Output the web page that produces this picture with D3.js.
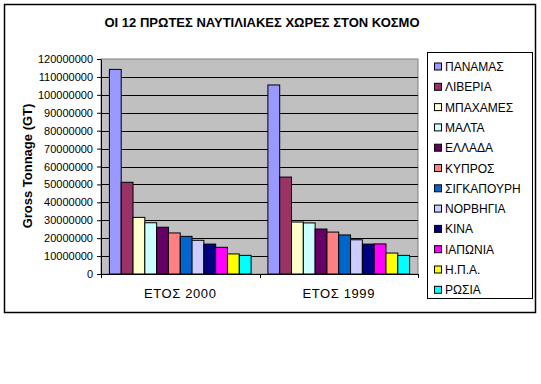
<!DOCTYPE html>
<html>
<head>
<meta charset="utf-8">
<script src="https://cdn.jsdelivr.net/npm/d3@7"></script>
<style>
  body { margin: 0; background: #fff; }
  svg { display: block; font-family: "Liberation Sans", Arial, sans-serif; }
</style>
</head>
<body>
<svg id="chart" width="541" height="384"></svg>
<script>
// data
const categories = ["ΕΤΟΣ 2000", "ΕΤΟΣ 1999"];
const countries = ["ΠΑΝΑΜΑΣ", "ΛΙΒΕΡΙΑ", "ΜΠΑΧΑΜΕΣ", "ΜΑΛΤΑ", "ΕΛΛΑΔΑ", "ΚΥΠΡΟΣ",
  "ΣΙΓΚΑΠΟΥΡΗ", "ΝΟΡΒΗΓΙΑ", "ΚΙΝΑ", "ΙΑΠΩΝΙΑ", "Η.Π.Α.", "ΡΩΣΙΑ"];
const values2000 = [114200000, 51200000, 31600000, 28600000, 26100000, 22900000,
  21000000, 18800000, 16700000, 14900000, 11200000, 10400000];
const values1999 = [105500000, 54100000, 29000000, 28500000, 25100000, 23400000,
  21800000, 19100000, 16700000, 16800000, 11700000, 10400000];
const colors = ["#9999FF", "#993366", "#FFFFCC", "#CCFFFF", "#660066", "#FF8080",
  "#0066CC", "#CCCCFF", "#000080", "#FF00FF", "#FFFF00", "#00FFFF"];
const yTickValues = [0, 10000000, 20000000, 30000000, 40000000, 50000000, 60000000,
  70000000, 80000000, 90000000, 100000000, 110000000, 120000000];

const seriesByCategory = { "ΕΤΟΣ 2000": values2000, "ΕΤΟΣ 1999": values1999 };

const svg = d3.select("#chart");

// outer frame
svg.append("rect")
  .attr("x", 4.5).attr("y", 4.5)
  .attr("width", 531).attr("height", 308)
  .attr("fill", "#fff")
  .attr("stroke", "#000")
  .attr("stroke-width", 1.5);

// plot area
const plotLeft = 101, plotRight = 418, plotTop = 59, plotBottom = 274;

const y = d3.scaleLinear().domain([0, 120000000]).range([plotBottom, plotTop]);
const x0 = d3.scaleBand().domain(categories).range([plotLeft, plotRight])
  .paddingInner(0.106).paddingOuter(0.053);
const x1 = d3.scaleBand().domain(countries).range([0, x0.bandwidth()]);
const color = d3.scaleOrdinal().domain(countries).range(colors);

svg.append("rect")
  .attr("x", plotLeft).attr("y", plotTop)
  .attr("width", plotRight - plotLeft).attr("height", plotBottom - plotTop)
  .attr("fill", "#C0C0C0")
  .attr("stroke", "#808080");

// gridlines
svg.append("g")
  .selectAll("line")
  .data(yTickValues.filter(v => v > 0 && v < 120000000))
  .enter()
  .append("line")
  .attr("x1", plotLeft).attr("x2", plotRight)
  .attr("y1", d => Math.round(y(d)) + 0.5)
  .attr("y2", d => Math.round(y(d)) + 0.5)
  .attr("stroke", "#000");

// bars
const groups = svg.append("g")
  .selectAll("g")
  .data(categories)
  .enter()
  .append("g")
  .attr("transform", d => "translate(" + x0(d) + ",0)");

groups.selectAll("rect")
  .data(cat => seriesByCategory[cat].map((v, i) => ({ country: countries[i], value: v })))
  .enter()
  .append("rect")
  .attr("x", d => x1(d.country))
  .attr("y", d => y(d.value))
  .attr("width", x1.bandwidth())
  .attr("height", d => plotBottom - y(d.value))
  .attr("fill", d => color(d.country))
  .attr("stroke", "#000")
  .attr("stroke-width", 1);

// y axis
const yAxis = svg.append("g")
  .attr("transform", "translate(" + plotLeft + ",0)")
  .call(d3.axisLeft(y).tickValues(yTickValues).tickSize(4).tickSizeOuter(0)
    .tickPadding(4).tickFormat(d3.format("d")));
yAxis.select(".domain").attr("stroke", "#000");
yAxis.selectAll("text")
  .attr("font-size", 11)
  .attr("font-family", "Liberation Sans, Arial, sans-serif")
  .attr("fill", "#000");

// x axis
svg.append("line")
  .attr("x1", plotLeft).attr("x2", plotRight)
  .attr("y1", plotBottom + 0.5).attr("y2", plotBottom + 0.5)
  .attr("stroke", "#000");

const boundaries = [plotLeft, (x0(categories[0]) + x0.bandwidth() + x0(categories[1])) / 2, plotRight];
svg.append("g")
  .selectAll("line")
  .data(boundaries)
  .enter()
  .append("line")
  .attr("x1", d => Math.round(d) + 0.5).attr("x2", d => Math.round(d) + 0.5)
  .attr("y1", plotBottom).attr("y2", plotBottom + 4)
  .attr("stroke", "#000");

svg.append("g")
  .selectAll("text")
  .data(categories)
  .enter()
  .append("text")
  .attr("x", d => x0(d) + x0.bandwidth() / 2)
  .attr("y", 298)
  .attr("text-anchor", "middle")
  .attr("font-size", 13)
  .style("letter-spacing", "0.6px")
  .text(d => d);

// title
svg.append("text")
  .attr("x", 262)
  .attr("y", 27)
  .attr("text-anchor", "middle")
  .attr("font-size", 13)
  .attr("font-weight", "bold")
  .text("ΟΙ 12 ΠΡΩΤΕΣ ΝΑΥΤΙΛΙΑΚΕΣ ΧΩΡΕΣ ΣΤΟΝ ΚΟΣΜΟ");

// y axis title
svg.append("text")
  .attr("transform", "translate(32,166) rotate(-90)")
  .attr("text-anchor", "middle")
  .attr("font-size", 13)
  .attr("font-weight", "bold")
  .text("Gross Tonnage (GT)");

// legend
const legend = svg.append("g");
legend.append("rect")
  .attr("x", 427.5).attr("y", 52.5)
  .attr("width", 105).attr("height", 246)
  .attr("fill", "#fff")
  .attr("stroke", "#000");

const items = legend.selectAll("g.item")
  .data(countries)
  .enter()
  .append("g")
  .attr("class", "item")
  .attr("transform", (d, i) => "translate(0," + (66.5 + i * 20.3) + ")");

items.append("rect")
  .attr("x", 434.5).attr("y", -3.5)
  .attr("width", 7).attr("height", 7)
  .attr("fill", d => color(d))
  .attr("stroke", "#000");

items.append("text")
  .attr("x", 445)
  .attr("y", 4.5)
  .attr("font-size", 12)
  .text(d => d);
</script>
</body>
</html>
